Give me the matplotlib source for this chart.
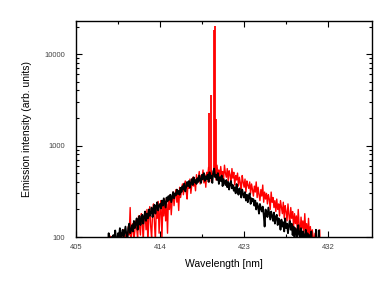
import numpy as np
import matplotlib
matplotlib.use('Agg')
import matplotlib.pyplot as plt
from matplotlib.ticker import FixedLocator, LogLocator, NullFormatter

# emission spectra, 0.1 nm steps, one row per nm
black_start = 408.0
black_counts = [70, 85, 60, 95, 75, 110, 80, 65, 100, 90,
                105, 85, 118, 95, 80, 110, 100, 125, 90, 108,
                120, 98, 112, 130, 105, 95, 125, 140, 110, 118,
                135, 115, 150, 125, 140, 160, 120, 145, 170, 135,
                155, 175, 140, 165, 190, 150, 180, 160, 200, 170,
                185, 210, 165, 195, 225, 180, 215, 240, 195, 220,
                230, 205, 250, 220, 265, 235, 210, 270, 245, 280,
                255, 290, 240, 275, 310, 265, 300, 285, 330, 295,
                320, 290, 345, 310, 360, 330, 385, 315, 350, 400,
                360, 410, 345, 390, 430, 370, 450, 395, 420, 380,
                440, 400, 470, 420, 390, 480, 430, 500, 410, 460,
                430, 480, 400, 510, 440, 470, 390, 520, 560, 450,
                480, 420, 500, 380, 450, 410, 470, 360, 430, 400,
                370, 420, 350, 400, 330, 380, 410, 340, 370, 320,
                350, 300, 380, 320, 290, 340, 310, 270, 330, 295,
                270, 310, 250, 290, 240, 280, 300, 230, 265, 245,
                260, 220, 250, 200, 235, 215, 180, 230, 205, 190,
                215, 175, 130, 200, 185, 165, 210, 180, 155, 190,
                170, 150, 185, 140, 165, 175, 135, 160, 150, 120,
                155, 130, 145, 115, 160, 125, 140, 110, 135, 150,
                120, 140, 105, 130, 98, 125, 115, 95, 135, 110,
                100, 125, 90, 115, 105, 85, 120, 95, 110, 80,
                105, 90, 115, 75, 98, 85, 60, 120, 70, 55,
                118, 60, 50]

red_start = 408.5
red_counts = [60, 80, 102, 70, 90, 65, 105, 85, 75, 95,
              108, 80, 70, 112, 95, 85, 120, 75, 100, 110,
              90, 130, 105, 210, 95, 120, 140, 90, 115, 150,
              125, 95, 170, 135, 105, 180, 145, 90, 160, 190,
              120, 200, 85, 165, 215, 130, 95, 185, 230, 140,
              90, 210, 160, 245, 110, 190, 250, 95, 220, 170,
              260, 150, 230, 110, 270, 200, 290, 175, 250, 310,
              220, 280, 330, 240, 300, 195, 350, 270, 320, 380,
              290, 350, 410, 310, 260, 390, 340, 430, 300, 370,
              450, 360, 410, 320, 480, 390, 440, 520, 380, 470,
              420, 540, 390, 480, 350, 510, 450, 580, 400, 490,
              530, 440, 500, 460, 560, 420, 610, 480, 540, 450,
              590, 470, 520, 420, 610, 500, 450, 560, 410, 530,
              480, 390, 560, 440, 510, 370, 470, 420, 500, 360,
              450, 390, 330, 470, 400, 350, 430, 310, 410, 370,
              340, 400, 300, 380, 330, 280, 360, 310, 400, 270,
              350, 290, 250, 330, 280, 370, 240, 310, 260, 300,
              230, 290, 260, 200, 310, 240, 270, 210, 250, 190,
              260, 200, 230, 170, 250, 210, 180, 240, 160, 220,
              190, 150, 230, 175, 140, 210, 160, 190, 130, 180,
              140, 170, 120, 200, 135, 110, 165, 125, 150, 105,
              180, 115, 140, 95, 160, 105, 130, 90, 120, 100,
              85, 110, 70, 95, 60, 80, 120, 55, 50, 40]

# narrow emission lines on the red spectrum
line_nm = [419.28, 419.43, 419.82, 419.92, 420.03]
line_peak = [2250, 3600, 18500, 20500, 1950]
line_base = [450, 450, 470, 470, 460]

black_nm = black_start + 0.1 * np.arange(len(black_counts))
red_nm = red_start + 0.1 * np.arange(len(red_counts))

plt.rcParams['font.family'] = ['Liberation Sans', 'DejaVu Sans']

fig = plt.figure(figsize=(3.92, 2.92), dpi=100)
ax = fig.add_axes([76 / 392, 55 / 292, 296 / 392, 216 / 292])

ax.plot(red_nm, red_counts, color='red', lw=1.0, zorder=2)
ax.vlines(line_nm, line_base, line_peak, color='red', lw=1.3, zorder=2)
ax.plot(black_nm, black_counts, color='black', lw=1.3, zorder=3)

ax.set_yscale('log')
ax.set_xlim(405, 436.7)
ax.set_ylim(100, 23000)

ax.xaxis.set_major_locator(FixedLocator([405, 414, 423, 432]))
ax.xaxis.set_minor_locator(FixedLocator([409.5, 418.5, 427.5]))
ax.yaxis.set_major_locator(FixedLocator([100, 1000, 10000]))
ax.yaxis.set_minor_locator(LogLocator(base=10, subs=np.arange(2, 10)))
ax.yaxis.set_minor_formatter(NullFormatter())
ax.set_yticklabels(['100', '1000', '10000'])

ax.tick_params(which='both', direction='in', top=True, right=True,
               labelsize=5.5, labelcolor='#444444', width=0.8)
ax.tick_params(which='major', length=4, pad=5)
ax.tick_params(axis='y', which='major', pad=8)
ax.tick_params(which='minor', length=2)
for s in ax.spines.values():
    s.set_linewidth(1.0)

ax.set_xlabel('Wavelength [nm]', fontsize=7.5, labelpad=6)
ax.set_ylabel('Emission intensity (arb. units)', fontsize=7.5, labelpad=9)

fig.savefig('out.png', dpi=100)
